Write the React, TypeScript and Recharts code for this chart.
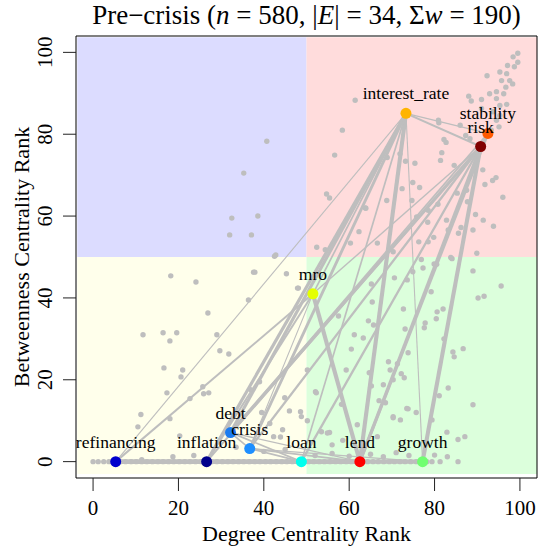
import React from 'react';
import { ComposedChart, Scatter, XAxis, YAxis, ReferenceArea } from 'recharts';

const SERIF = '"Liberation Serif", "Times New Roman", serif';
const EDGE = '#bebebe';

// labelled keyword nodes
const nodeNames = ['refinancing', 'inflation', 'debt', 'crisis', 'loan', 'lend', 'growth', 'mro', 'interest_rate', 'stability', 'risk'];
const nodeX = [5.3, 26.6, 32.2, 36.7, 48.8, 62.5, 77.2, 51.5, 73.3, 92.5, 90.8];
const nodeY = [0, 0, 7.1, 3.2, 0, 0, 0, 41, 85.1, 80.2, 77.0];
const nodeColors = ['#0000cd', '#00008b', '#1c7cf0', '#1e8fff', '#00ffee', '#ff0000', '#70ff70', '#e4ff00', '#ffb400', '#ff5a00', '#800000'];

// edges between nodes (by name) and their weights
const edgeFrom = ['interest_rate', 'interest_rate', 'interest_rate', 'interest_rate', 'interest_rate', 'interest_rate', 'interest_rate', 'interest_rate', 'interest_rate', 'interest_rate',
  'risk', 'risk', 'risk', 'risk', 'risk', 'risk', 'risk', 'risk', 'stability', 'stability', 'mro', 'mro', 'mro',
  'refinancing', 'inflation', 'loan', 'lend', 'debt', 'crisis', 'crisis', 'debt', 'crisis', 'inflation', 'debt'];
const edgeTo = ['stability', 'risk', 'refinancing', 'inflation', 'debt', 'crisis', 'mro', 'lend', 'growth', 'loan',
  'stability', 'lend', 'growth', 'loan', 'debt', 'crisis', 'inflation', 'mro', 'lend', 'debt', 'lend', 'refinancing', 'crisis',
  'inflation', 'loan', 'lend', 'growth', 'loan', 'loan', 'lend', 'lend', 'growth', 'mro', 'crisis'];
const edgeWeight = [2, 4, 1, 8, 8, 7, 3, 11, 1, 3,
  3, 8, 11, 5, 8, 5, 4, 2, 7, 3, 11, 4, 1,
  13, 13, 13, 11, 3, 3, 3, 2, 2, 4, 3];

// other (unlabelled) terms along zero betweenness
const bandX = [0, 1.2, 2.5, 3.7, 5, 6.4, 7.6, 8.9, 10.1, 11.4, 12.6, 13.9, 15.2, 16.4, 17.7, 18.9, 20.2, 21.5, 22.7, 24, 25.3, 26.5, 27.8, 29, 30.3, 31.6, 32.8, 34.1, 35.3, 36.6, 37.9, 39.1, 40.4, 41.6, 42.9, 44.2, 45.4, 46.7, 47.9, 49.2, 50.5, 51.7, 53, 54.2, 55.5, 56.8, 58, 59.3, 60.5, 61.8, 63.1, 64.3, 65.6, 66.8, 68.1, 69.4, 70.6, 71.9, 73.1, 74.4, 75.7, 76.9, 78.2, 79.4, 81.3, 85.5];

// other terms elsewhere: [degree rank, betweenness rank]
const otherPoints = [
  [40.7, 78.3], [35.3, 70.5], [32.5, 59.5], [38.6, 60], [32, 55.4], [37.1, 55.4], [42.8, 50.5],
  [61.4, 88.3], [58.4, 81], [56.6, 74.9], [54.7, 65.4], [55.4, 64.4], [63.8, 62], [62.3, 56.2], [60.3, 53.4], [52.4, 52.4], [54.4, 51.8],
  [66.6, 53.4], [76.3, 53.7], [79.8, 54.8], [83.2, 56.6], [86.2, 57.2], [89, 56.6], [91.4, 59], [93.8, 57.5], [89.6, 60.4], [87.7, 63.5],
  [87.5, 66.3], [85.3, 65.6], [91.8, 67.7], [93.6, 68.7], [94.4, 69.4], [96, 64.6], [91.3, 71.3], [84.6, 72.4], [81.4, 73.6], [81.7, 75.5],
  [82.7, 78], [82.2, 78.7], [81, 82.8], [80.9, 83.4], [87.3, 79.7], [88.3, 78.9], [86, 82.2], [92.3, 94.3], [99.5, 99.8], [98.4, 98.9],
  [99.5, 97.6], [97.1, 96.8], [98.7, 96.5], [95.3, 95.2], [96.9, 94.8], [95.7, 93.1], [97.6, 93.1], [98.3, 92.3], [96.7, 91.5], [94.5, 90.4],
  [96.2, 89.9], [92.9, 89.9], [88, 89.3], [88.6, 88.1], [91, 88.5], [94.5, 88.7], [95.3, 87], [96.9, 87.3], [91, 86.3], [93.7, 85.5],
  [95.3, 84.6], [94.5, 83.4], [95.1, 81.8], [93.3, 81], [75.4, 72.9], [73.2, 73.4], [71.9, 75.2], [68.9, 74.3], [74.9, 68.2], [76.5, 67],
  [72.4, 66.7], [74.7, 63.8], [80.8, 62.9], [78.5, 61.4], [63.9, 61.9], [68.8, 63.8], [75.8, 59.8], [78.4, 58.5], [82.8, 59], [85.6, 55.8],
  [89.9, 50.9], [70.3, 51.3], [78.5, 53.7],
  [89, 46.6], [95.6, 42.9], [90.2, 40], [91.6, 40.4], [77.3, 47.3], [79.9, 48.3], [84.1, 49.6], [79.2, 41.5], [73.6, 44.4], [70.6, 44.9],
  [65.2, 43.4], [65.4, 39], [72.7, 37.3], [80.6, 36.6], [82, 37.3], [80.4, 34.9], [77.8, 33.9], [77.6, 32.7], [73.1, 32.4], [64.5, 34.4],
  [65.7, 33.4], [61.2, 31], [63.3, 30.2], [57.5, 35.6], [82.2, 30], [86.7, 27.6], [84.3, 26.8], [84.6, 25.6], [73.8, 26.6], [69.2, 24.4],
  [71.3, 23.9], [69.6, 22.4], [72.2, 21.5], [72.9, 20.5], [64.7, 21.7], [59.3, 22.4], [70.3, 20], [68, 18.8], [65.2, 18.5], [83.2, 18],
  [81.1, 16.1], [67, 14.9], [68.5, 14.4], [52.1, 17.1], [89, 13.9], [73.8, 12.9], [75.7, 12], [70.3, 10.7], [72, 10.2], [79.4, 10.2],
  [61.9, 9], [53.5, 7.3], [55.4, 7.1], [66.6, 6.1], [85.5, 5.4], [87.1, 6.1], [56, 4.1], [76.9, 49.4], [80.5, 48.2], [83.8, 49.9],
  [74.9, 46.4], [52.3, 16.8], [50.2, 22.4], [50.2, 10], [54.9, 7], [70.3, 11], [73.5, 13], [82.9, 7.2], [60.5, 27.5], [58.2, 14],
  [52, 1.5], [56, 2], [60, 1.3], [65, 1.8], [68, 1.2], [71, 2.2], [74, 1.5], [80, 1.6], [83, 1.2], [58.5, 5.2],
  [42.5, 50.2], [18.2, 45.4], [24.1, 43.9], [37.6, 46.3], [45.3, 45.9], [48.1, 42.4], [47.9, 42.4], [36.4, 39.5], [26.9, 36.3], [11.7, 31],
  [16.4, 31.5], [19.6, 31.5], [18, 29.5], [29, 31], [29.7, 27.1], [31.8, 26.3], [16.6, 22.9], [21, 22.4], [20.6, 20.7], [25.7, 18.3],
  [17.3, 16.8], [22.7, 15.4], [25.9, 16.6], [27.1, 16.8], [39, 19.5], [36.9, 17.6], [11.2, 11.5], [10.5, 8.5], [18, 10.5], [20.3, 6.3],
  [39.5, 12], [41.4, 9.3], [44.9, 15.6], [46, 12.4], [48.6, 12.2], [48.8, 11], [42.3, 6.1], [44.4, 7.8], [18.7, 1.2], [23.6, 1.5],
  [11.4, 0.5], [37.9, 46.3], [43.9, 6], [33.5, 3.5], [40, 2.5], [45, 3],
];

const axisTicks = [0, 20, 40, 60, 80, 100];

const bandData = bandX.map((x) => ({ x, y: 0 }));
const otherData = otherPoints.map(([x, y]) => ({ x, y }));
const nodeData = nodeNames.map((name, i) => ({ name, x: nodeX[i], y: nodeY[i], color: nodeColors[i] }));
const nodeIndex = (name: string) => nodeNames.indexOf(name);
const edgeData = edgeFrom.map((from, i) => {
  const a = nodeIndex(from);
  const b = nodeIndex(edgeTo[i]);
  return {
    key: `${from}-${edgeTo[i]}`,
    width: 0.8 + 0.3 * edgeWeight[i],
    points: [{ x: nodeX[a], y: nodeY[a] }, { x: nodeX[b], y: nodeY[b] }],
  };
});

const GrayDot = (props: any) => <circle cx={props.cx} cy={props.cy} r={2.7} fill={EDGE} />;
const NoDot = () => <g />;

const NodeDot = (props: any) => {
  const { cx, cy, payload } = props;
  return (
    <g>
      <circle cx={cx} cy={cy} r={5.5} fill={payload.color} />
      <text x={cx} y={cy - 14} textAnchor="middle" fontFamily={SERIF} fontSize={17.5} fill="#000">
        {payload.name}
      </text>
    </g>
  );
};

const XTick = (props: any) => (
  <text x={props.x} y={props.y + 22} textAnchor="middle" fontFamily={SERIF} fontSize={21} fill="#000">
    {props.payload.value}
  </text>
);

const YTick = (props: any) => {
  const bx = props.x - 8.5;
  return (
    <text x={bx} y={props.y} transform={`rotate(-90 ${bx} ${props.y})`} textAnchor="middle" fontFamily={SERIF} fontSize={21} fill="#000">
      {props.payload.value}
    </text>
  );
};

const XTitle = (props: any) => {
  const vb = props.viewBox || { x: 76, y: 478, width: 461 };
  return (
    <text x={vb.x + vb.width / 2} y={vb.y + 63} textAnchor="middle" fontFamily={SERIF} fontSize={22} fill="#000">
      Degree Centrality Rank
    </text>
  );
};

const YTitle = (props: any) => {
  const vb = props.viewBox || { x: 0, y: 36, height: 442 };
  const cy = vb.y + vb.height / 2;
  const bx = 29;
  return (
    <text x={bx} y={cy} transform={`rotate(-90 ${bx} ${cy})`} textAnchor="middle" fontFamily={SERIF} fontSize={22} fill="#000">
      Betweenness Centrality Rank
    </text>
  );
};

export default function App() {
  return (
    <div style={{ position: 'absolute', left: 0, top: 0, width: 539, height: 546, background: '#fff' }}>
      <div
        style={{
          position: 'absolute', left: 76, top: 2, width: 461, textAlign: 'center',
          fontFamily: SERIF, fontSize: 27, lineHeight: '27px', color: '#000', whiteSpace: 'nowrap',
        }}
      >
        Pre−crisis (<i>n</i> = 580, |<i>E</i>| = 34, Σ<i>w</i> = 190)
      </div>
      <ComposedChart width={539} height={546} margin={{ top: 36, right: 2, bottom: 0, left: 0 }}>
        <XAxis
          type="number" dataKey="x" domain={[-4, 104]} ticks={axisTicks} allowDataOverflow
          axisLine={false} tickSize={13} tickLine={{ stroke: '#222' }} tick={<XTick />} height={68}
          label={<XTitle />}
        />
        <YAxis
          type="number" dataKey="y" domain={[-4, 104]} ticks={axisTicks} allowDataOverflow
          axisLine={false} tickSize={13} tickLine={{ stroke: '#222' }} tick={<YTick />} width={76}
          label={<YTitle />}
        />
        <ReferenceArea x1={-3.7} x2={50} y1={50} y2={103.7} fill="#dcdcff" fillOpacity={1} stroke="none" />
        <ReferenceArea x1={50} x2={104} y1={50} y2={103.7} fill="#ffdcdc" fillOpacity={1} stroke="none" />
        <ReferenceArea x1={-3.7} x2={50} y1={-3} y2={50} fill="#ffffeb" fillOpacity={1} stroke="none" />
        <ReferenceArea x1={50} x2={104} y1={-3} y2={50} fill="#dcffdc" fillOpacity={1} stroke="none" />
        <Scatter data={bandData} shape={GrayDot} isAnimationActive={false} legendType="none" />
        <Scatter data={otherData} shape={GrayDot} isAnimationActive={false} legendType="none" />
        {edgeData.map((e) => (
          <Scatter
            key={e.key}
            data={e.points}
            shape={NoDot}
            line={{ stroke: EDGE, strokeWidth: e.width }}
            isAnimationActive={false}
            legendType="none"
          />
        ))}
        <Scatter data={nodeData} shape={NodeDot} isAnimationActive={false} legendType="none" />
        <ReferenceArea x1={-4} x2={104} y1={-4} y2={104} fill="none" stroke="#000" strokeWidth={1} />
      </ComposedChart>
    </div>
  );
}
